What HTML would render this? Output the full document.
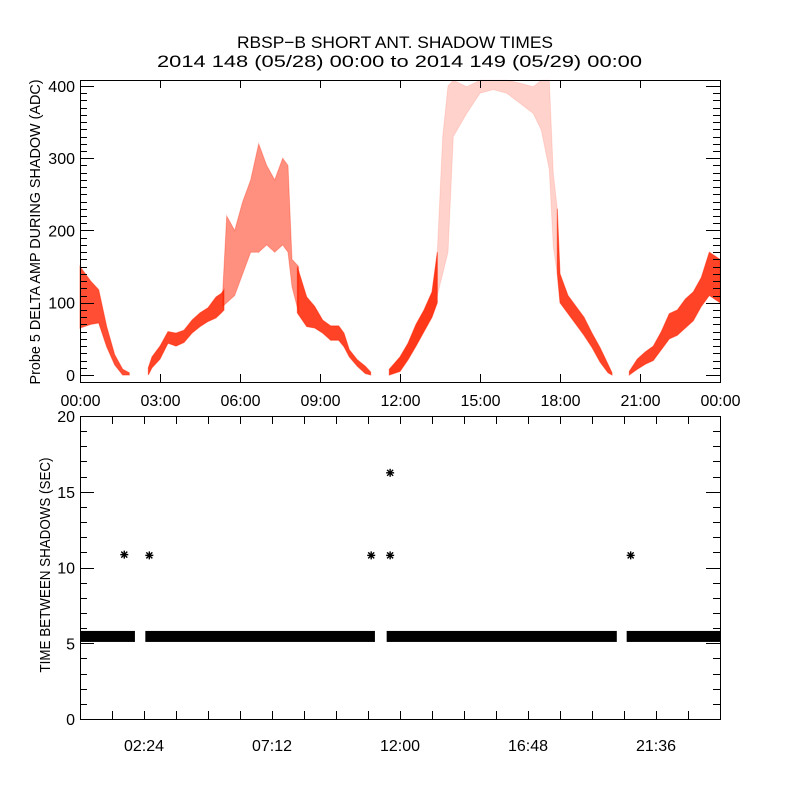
<!DOCTYPE html>
<html><head><meta charset="utf-8"><style>
html,body{margin:0;padding:0;background:#fff;}
svg{display:block;font-family:"Liberation Sans",sans-serif;}
</style></head><body>
<svg id="chart" width="800" height="800" viewBox="0 0 800 800">
<rect x="0" y="0" width="800" height="800" fill="#fff"/>
<text x="395" y="48" text-anchor="middle" font-size="17" textLength="316" lengthAdjust="spacingAndGlyphs">RBSP−B SHORT ANT. SHADOW TIMES</text>
<text x="399.5" y="67" text-anchor="middle" font-size="17" textLength="485" lengthAdjust="spacingAndGlyphs">2014 148 (05/28) 00:00 to 2014 149 (05/29) 00:00</text>
<g id="topPanel"></g>
<g id="botPanel"></g>
</svg>
<script>
// ---- Top panel data: band envelopes (hours, lower, upper) per segment ----
const segHours = [
 [0,0.4,0.7,1.0,1.3,1.6,1.85],
 [2.56,2.7,3.0,3.3,3.6,3.9,4.2,4.5,4.8,5.1,5.3,5.4],
 [5.35,5.5,5.8,6.1,6.4,6.7,7.0,7.3,7.6,7.8,7.95,8.2],
 [8.15,8.5,8.8,9.1,9.4,9.7,9.9,10.1,10.4,10.7,10.9],
 [11.6,12.0,12.3,12.6,12.9,13.2,13.4],
 [13.4,13.6,13.8,14.0,14.5,15.0,15.5,16.0,16.5,17.0,17.3,17.6,17.75,17.9],
 [17.9,18.0,18.3,18.6,18.9,19.2,19.5,19.8,19.95],
 [20.6,20.9,21.2,21.5,21.8,22.1,22.4,22.7,23.0,23.3,23.6,24]
];
const segLow = [
 [65,70,72,39,14,0,0],
 [0,10,22,44,40,45,58,67,74,79,86,90],
 [95,100,110,140,170,170,180,170,180,170,122,86],
 [86,67,65,58,48,48,39,25,12,2,0],
 [0,5,21,40,60,80,100],
 [110,140,170,330,362,390,395,390,376,362,339,284,177,140],
 [140,100,85,70,55,38,18,3,0],
 [0,8,15,20,35,50,55,65,75,95,110,100]
];
const segHigh = [
 [150,130,118,67,28,8,3],
 [10,25,40,60,58,62,76,86,93,108,113,118],
 [115,220,200,240,270,320,290,270,300,290,160,150],
 [150,108,95,76,68,68,58,35,21,12,4],
 [8,25,44,70,90,115,170],
 [170,330,400,408,399,408,408,408,404,399,408,408,279,230],
 [230,140,110,95,80,58,38,15,3],
 [5,22,32,40,60,85,90,105,115,135,170,160]
];
const segDensity = [0.8,0.85,0.5,0.85,0.9,0.2,0.85,0.85];
const topXTicks = ["00:00","03:00","06:00","09:00","12:00","15:00","18:00","21:00","00:00"];
const topYTicks = [0,100,200,300,400];

// ---- Bottom panel data ----
const barStart = [0,2.45,11.5,20.5];
const barEnd = [2.06,11.06,20.13,24];
const barValue = [5.45,5.45,5.45,5.45];
const starHours = [1.66,2.6,10.92,11.63,11.63,20.65];
const starValues = [10.85,10.8,10.8,10.8,16.25,10.8];
const botXTicks = ["02:24","07:12","12:00","16:48","21:36"];
const botYTicks = [0,5,10,15,20];

const NS="http://www.w3.org/2000/svg";
function mk(parent,tag,attrs){const e=document.createElementNS(NS,tag);for(const k in attrs)e.setAttribute(k,attrs[k]);parent.appendChild(e);return e;}

// ---------- Top panel ----------
const topG=document.getElementById('topPanel');
const T={x0:80,x1:720,y0:80,y1:382,vmin:-9.7,vmax:408.3};
const tx=h=>T.x0+h/24*(T.x1-T.x0);
const ty=v=>T.y1-(v-T.vmin)/(T.vmax-T.vmin)*(T.y1-T.y0);
for(let s=0;s<segHours.length;s++){
  let pts=[];
  for(let i=0;i<segHours[s].length;i++)pts.push(tx(segHours[s][i]).toFixed(1)+","+ty(segHigh[s][i]).toFixed(1));
  for(let i=segHours[s].length-1;i>=0;i--)pts.push(tx(segHours[s][i]).toFixed(1)+","+ty(segLow[s][i]).toFixed(1));
  const p=mk(topG,'polygon',{points:pts.join(' '),fill:'#ff2200','fill-opacity':segDensity[s],stroke:'#ff2200','stroke-opacity':segDensity[s]*0.6,'stroke-width':1});
  
  
}
const tf=mk(topG,'rect',{x:T.x0+0.5,y:T.y0+0.5,width:T.x1-T.x0,height:T.y1-T.y0,fill:'none',stroke:'#000','stroke-width':1});


for(let v=0;v<=400;v+=10){
  const L=(v%100===0)?14:7;const y=Math.round(ty(v))+0.5;
  mk(topG,'line',{x1:T.x0,y1:y,x2:T.x0+L,y2:y,stroke:'#000'});
  mk(topG,'line',{x1:T.x1,y1:y,x2:T.x1-L,y2:y,stroke:'#000'});
}
topYTicks.forEach(v=>{
  const t=mk(topG,'text',{x:T.x0-5,y:ty(v)+6,'text-anchor':'end','font-size':16});
  t.textContent=v;
  
  
});
topXTicks.forEach((lab,i)=>{
  const x=Math.round(tx(i*3))+0.5;
  mk(topG,'line',{x1:x,y1:T.y1,x2:x,y2:T.y1-8,stroke:'#000'});
  mk(topG,'line',{x1:x,y1:T.y0,x2:x,y2:T.y0+8,stroke:'#000'});
  const t=mk(topG,'text',{x:x,y:406,'text-anchor':'middle','font-size':16});
  t.textContent=lab;
  
  
});
const tyt=mk(topG,'text',{x:0,y:0,transform:'translate(40,232) rotate(-90)','text-anchor':'middle','font-size':15,textLength:305,lengthAdjust:'spacingAndGlyphs'});
tyt.textContent='Probe 5 DELTA AMP DURING SHADOW (ADC)';



// ---------- Bottom panel ----------
const botG=document.getElementById('botPanel');
const B={x0:80,x1:720,y0:416,y1:719,vmin:0,vmax:20};
const bx=h=>B.x0+h/24*(B.x1-B.x0);
const by=v=>B.y1-(v-B.vmin)/(B.vmax-B.vmin)*(B.y1-B.y0);
for(let i=0;i<barStart.length;i++){
  const x0=bx(barStart[i]),x1=bx(barEnd[i]);
  const r=mk(botG,'rect',{x:x0,y:by(barValue[i])-5.5,width:x1-x0,height:11,fill:'#000'});
  
  
}
for(let i=0;i<starHours.length;i++){
  const cx=bx(starHours[i]),cy=by(starValues[i]);
  const g=mk(botG,'g',{stroke:'#000','stroke-width':1.4});
  
  
  mk(g,'line',{x1:cx-4,y1:cy,x2:cx+4,y2:cy});
  mk(g,'line',{x1:cx,y1:cy-4,x2:cx,y2:cy+4});
  mk(g,'line',{x1:cx-3,y1:cy-3,x2:cx+3,y2:cy+3});
  mk(g,'line',{x1:cx-3,y1:cy+3,x2:cx+3,y2:cy-3});
}
const bf=mk(botG,'rect',{x:B.x0+0.5,y:B.y0+0.5,width:B.x1-B.x0,height:B.y1-B.y0,fill:'none',stroke:'#000','stroke-width':1});


for(let v=0;v<=20;v+=1){
  const L=(v%5===0)?14:7;const y=Math.round(by(v))+0.5;
  mk(botG,'line',{x1:B.x0,y1:y,x2:B.x0+L,y2:y,stroke:'#000'});
  mk(botG,'line',{x1:B.x1,y1:y,x2:B.x1-L,y2:y,stroke:'#000'});
}
for(let h=1.2;h<24;h+=1.2){
  const x=Math.round(bx(h))+0.5;
  mk(botG,'line',{x1:x,y1:B.y1,x2:x,y2:B.y1-8,stroke:'#000'});
  mk(botG,'line',{x1:x,y1:B.y0,x2:x,y2:B.y0+8,stroke:'#000'});
}
botYTicks.forEach(v=>{
  const t=mk(botG,'text',{x:B.x0-5,y:by(v)+6,'text-anchor':'end','font-size':16});
  t.textContent=v;
  
  
});
botXTicks.forEach((lab,i)=>{
  const t=mk(botG,'text',{x:bx(2.4+i*4.8),y:751,'text-anchor':'middle','font-size':16});
  t.textContent=lab;
  
  
});
const byt=mk(botG,'text',{x:0,y:0,transform:'translate(50,565) rotate(-90)','text-anchor':'middle','font-size':15,textLength:215,lengthAdjust:'spacingAndGlyphs'});
byt.textContent='TIME BETWEEN SHADOWS (SEC)';


</script>
</body></html>
